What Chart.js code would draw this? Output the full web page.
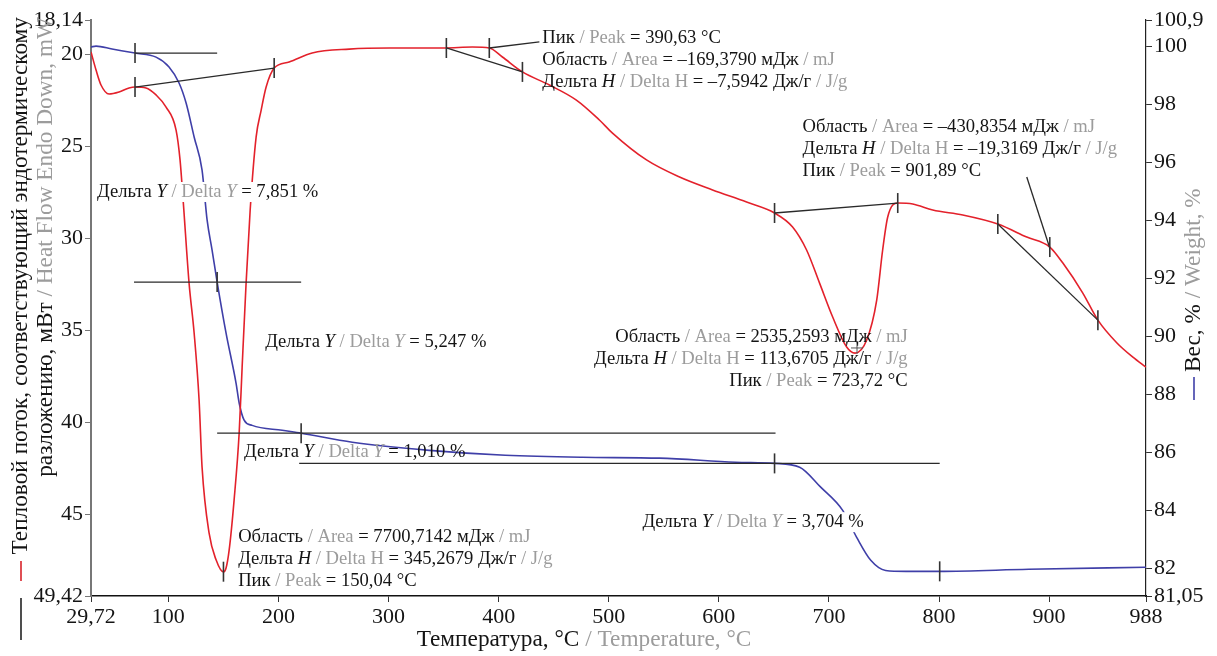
<!DOCTYPE html>
<html>
<head>
<meta charset="utf-8">
<script src="https://cdn.jsdelivr.net/npm/chart.js@4.4.0/dist/chart.umd.min.js"></script>
<style>
  html, body { margin: 0; padding: 0; background: #fff; }
</style>
</head>
<body>
<canvas id="myChart" width="1217" height="656"></canvas>
<script>
// heat flow (red), mW, left axis, endo down
const hfTemp = [29.72, 34.3, 38.8, 46.1, 55.2, 64.3, 69.7, 79.7, 88.8, 97.9, 107.0, 110.6, 113.4, 118.8, 123.4, 127.9, 130.6, 137.0, 143.4, 150.04,
    152.4, 155.2, 159.7, 164.3, 167.0, 170.6, 174.3, 179.7, 184.3, 188.8, 196.1, 209.7, 230.6, 264.3, 300.6, 350.6, 376.1, 391.5, 403.4, 421.6,
    446.1, 470.6, 491.5, 503.4, 534.3, 564.3, 594.3, 625.2, 650.6, 667.0, 679.7, 691.5, 703.4, 716.1, 723.7, 734.3, 743.4, 748.8, 753.4, 762.5,
    776.1, 794.3, 821.6, 853.4, 879.7, 900.6, 912.5, 930.6, 944.3, 961.6, 976.1, 988];
const hfVals = [19.88, 20.86, 21.67, 22.16, 22.05, 21.83, 21.78, 21.83, 22.21, 22.87, 24.12, 25.74, 27.92, 32.43, 35.14, 38.78, 42.42, 46.01, 47.47, 48.12,
    47.9, 46.93, 44.21, 40.57, 36.99, 32.43, 28.46, 24.5, 23.03, 21.78, 20.75, 20.42, 19.93, 19.72, 19.66, 19.66, 19.61, 19.66, 20.15, 20.96,
    21.67, 22.49, 23.57, 24.28, 25.74, 26.67, 27.37, 28.03, 28.62, 29.38, 30.63, 32.43, 34.27, 35.9, 36.23, 35.52, 33.35, 30.63, 28.84, 28.08,
    28.13, 28.46, 28.73, 29.22, 29.93, 30.47, 31.34, 32.97, 34.44, 35.68, 36.45, 36.99];

// weight (blue), %, right axis
const wTemp = [29.72, 34.3, 48.8, 69.7, 88.8, 100.6, 109.7, 116.1, 123.4, 130.6, 135.2, 139.7, 144.3, 152.4, 161.5, 164.3, 168.8, 176.1, 203.4, 220.6,
    267, 337, 406.1, 476.1, 546.1, 615.2, 650.6, 673.4, 692.5, 712.5, 725.2, 738, 751.5, 770, 800.6, 881.5, 988];
const wVals = [99.97, 100.0, 99.9, 99.76, 99.62, 99.28, 98.73, 98.04, 96.87, 95.73, 94.0, 92.97, 91.87, 90.11, 88.38, 87.7, 87.11, 86.93, 86.76, 86.66,
    86.35, 86.07, 85.9, 85.83, 85.8, 85.66, 85.62, 85.49, 84.8, 84.0, 83.07, 82.28, 81.93, 81.9, 81.9, 81.97, 82.04];

const xTicks = [29.72, 100, 200, 300, 400, 500, 600, 700, 800, 900, 988];
const hfTicks = [18.14, 20, 25, 30, 35, 40, 45, 49.42];
const wTicks = [81.05, 82, 84, 86, 88, 90, 92, 94, 96, 98, 100, 100.9];

// analysis marks: [t1, v1, t2, v2]
const hfSegments = [[69.7, 21.78, 196.1, 20.75], [352.5, 19.66, 421.6, 20.96], [391.5, 19.66, 437, 19.33],
    [650.6, 28.62, 762.5, 28.08], [853.4, 29.22, 944.3, 34.44], [879.7, 26.67, 900.6, 30.52]];
const wSegments = [[69.7, 99.76, 144.3, 99.76], [68.8, 91.87, 220.6, 91.87], [144.3, 86.66, 651.5, 86.66], [218.8, 85.62, 800.6, 85.62]];
const hfMarkT = [69.7, 196.1, 150.04, 352.5, 391.5, 421.6, 650.6, 762.5, 853.4, 900.6, 944.3];
const hfMarkV = [21.78, 20.75, 48.1, 19.66, 19.66, 20.96, 28.62, 28.08, 29.22, 30.47, 34.44];
const wMarkT = [69.7, 144.3, 220.6, 650.6, 800.6];
const wMarkV = [99.76, 91.87, 86.66, 85.62, 81.9];

// text blocks: anchor temp, anchor heat flow, align, white box, lines of [text, style]
function dY(v) { return [['Дельта ', 'k'], ['Y', 'ki'], [' / Delta ', 'g'], ['Y', 'gi'], [' = ' + v + ' %', 'k']]; }
function area(v) { return [['Область', 'k'], [' / Area', 'g'], [' = ' + v + ' мДж', 'k'], [' / mJ', 'g']]; }
function dH(v) { return [['Дельта ', 'k'], ['H', 'ki'], [' / Delta H', 'g'], [' = ' + v + ' Дж/г', 'k'], [' / J/g', 'g']]; }
function peak(v) { return [['Пик', 'k'], [' / Peak', 'g'], [' = ' + v + ' °C', 'k']]; }
const notes = [
    { t: 35.2, v: 27.48, align: 'left', box: true, lines: [dY('7,851')] },
    { t: 187.9, v: 35.63, align: 'left', box: true, lines: [dY('5,247')] },
    { t: 168.8, v: 41.61, align: 'left', box: false, lines: [dY('1,010')] },
    { t: 530.6, v: 45.41, align: 'left', box: true, lines: [dY('3,704')] },
    { t: 163.4, v: 46.22, align: 'left', box: false, lines: [area('7700,7142'), dH('345,2679'), peak('150,04')] },
    { t: 439.7, v: 19.12, align: 'left', box: false, lines: [peak('390,63'), area('–169,3790'), dH('–7,5942')] },
    { t: 676.1, v: 23.95, align: 'left', box: false, lines: [area('–430,8354'), dH('–19,3169'), peak('901,89')] },
    { t: 771.5, v: 35.36, align: 'right', box: false, lines: [area('2535,2593'), dH('113,6705'), peak('723,72')] },
];

const BLACK = '#141414';
const GRAY = '#9c9c9c';
const SERIF = '"Liberation Serif", "Times New Roman", serif';
const noteSize = 18.6;
const titleSize = 23.3;
const lineGap = 22;

function fmt(v) { return String(v).replace('.', ','); }
function fontFor(st, size) { return (st.indexOf('i') >= 0 ? 'italic ' : '') + size + 'px ' + SERIF; }

function runsWidth(ctx, runs, size) {
    let w = 0;
    runs.forEach(r => { ctx.font = fontFor(r[1], size); w += ctx.measureText(r[0]).width; });
    return w;
}
function drawRuns(ctx, runs, x, y, size) {
    let cx = x;
    runs.forEach(r => {
        ctx.font = fontFor(r[1], size);
        ctx.fillStyle = r[1][0] === 'g' ? GRAY : BLACK;
        ctx.fillText(r[0], cx, y);
        cx += ctx.measureText(r[0]).width;
    });
}

const textPlugin = {
    id: 'texts',
    afterDatasetsDraw(chart) {
        const ctx = chart.ctx;
        const xs = chart.scales.x, ys = chart.scales.yL;
        ctx.save();
        ctx.textBaseline = 'middle';
        notes.forEach(n => {
            const px = xs.getPixelForValue(n.t);
            let py = ys.getPixelForValue(n.v);
            n.lines.forEach(line => {
                const w = runsWidth(ctx, line, noteSize);
                const x0 = n.align === 'right' ? px - w : px;
                if (n.box) {
                    ctx.fillStyle = '#fff';
                    ctx.fillRect(x0 - 2, py - 10, w + 4, 20);
                }
                drawRuns(ctx, line, x0, py, noteSize);
                py += lineGap;
            });
        });
        ctx.restore();
    },
    afterDraw(chart) {
        const ctx = chart.ctx;
        ctx.save();
        ctx.textBaseline = 'middle';
        // x title
        const xt = [['Температура, °C', 'k'], [' / Temperature, °C', 'g']];
        const xw = runsWidth(ctx, xt, titleSize);
        drawRuns(ctx, xt, 584 - xw / 2, 640, titleSize);

        // left title, two rotated lines ending at the top
        const l1 = [['Тепловой поток, соответствующий эндотермическому', 'k']];
        const l2 = [['разложению, мВт', 'k'], [' / Heat Flow Endo Down, mW', 'g']];
        [[l1, 21], [l2, 46]].forEach(([runs, x]) => {
            const w = runsWidth(ctx, runs, titleSize);
            ctx.save();
            ctx.translate(x, 17);
            ctx.rotate(-Math.PI / 2);
            drawRuns(ctx, runs, -w, 0, titleSize);
            ctx.restore();
        });
        ctx.lineWidth = 1.6;
        ctx.strokeStyle = '#d8232a';
        ctx.beginPath(); ctx.moveTo(21, 581); ctx.lineTo(21, 561); ctx.stroke();
        ctx.strokeStyle = '#222';
        ctx.beginPath(); ctx.moveTo(21, 598); ctx.lineTo(21, 640); ctx.stroke();

        // right title
        const rt = [['Вес, %', 'k'], [' / Weight, %', 'g']];
        ctx.save();
        ctx.translate(1194, 372);
        ctx.rotate(-Math.PI / 2);
        drawRuns(ctx, rt, 0, 0, titleSize);
        ctx.restore();
        ctx.strokeStyle = '#3f3fa8';
        ctx.beginPath(); ctx.moveTo(1194, 400); ctx.lineTo(1194, 377); ctx.stroke();
        ctx.restore();
    }
};

function pts(ts, vs) { return ts.map((t, i) => ({ x: t, y: vs[i] })); }

const datasets = [
    {
        label: 'Heat Flow', data: pts(hfTemp, hfVals), yAxisID: 'yL',
        borderColor: '#e3212b', borderWidth: 1.6, pointRadius: 0, cubicInterpolationMode: 'monotone', order: 2,
    },
    {
        label: 'Weight', data: pts(wTemp, wVals), yAxisID: 'yR',
        borderColor: '#3f3fa8', borderWidth: 1.6, pointRadius: 0, cubicInterpolationMode: 'monotone', order: 2,
    },
];
hfSegments.forEach(s => datasets.push({
    data: [{ x: s[0], y: s[1] }, { x: s[2], y: s[3] }], yAxisID: 'yL',
    borderColor: '#2a2a2a', borderWidth: 1.3, pointRadius: 0, order: 1,
}));
wSegments.forEach(s => datasets.push({
    data: [{ x: s[0], y: s[1] }, { x: s[2], y: s[3] }], yAxisID: 'yR',
    borderColor: '#2a2a2a', borderWidth: 1.3, pointRadius: 0, order: 1,
}));
datasets.push({
    data: pts(hfMarkT, hfMarkV), yAxisID: 'yL', showLine: false,
    pointStyle: 'line', rotation: 90, pointRadius: 10, pointBorderColor: '#333', pointBorderWidth: 1.6, order: 0,
});
datasets.push({
    data: pts(wMarkT, wMarkV), yAxisID: 'yR', showLine: false,
    pointStyle: 'line', rotation: 90, pointRadius: 10, pointBorderColor: '#333', pointBorderWidth: 1.6, order: 0,
});
datasets.push({
    data: [{ x: 725.5, y: 35.95 }], yAxisID: 'yL', showLine: false,
    pointStyle: 'cross', pointRadius: 6, pointBorderColor: '#555', pointBorderWidth: 1, order: 0,
});

const tickFont = { family: SERIF, size: 22 };

var mychart = new Chart('myChart', {
    type: 'line',
    data: { datasets: datasets },
    plugins: [textPlugin],
    options: {
        responsive: false,
        animation: false,
        devicePixelRatio: 1,
        layout: { padding: { top: 20, left: 0, right: 0, bottom: 0 }, autoPadding: false },
        plugins: { legend: { display: false }, tooltip: { enabled: false } },
        scales: {
            x: {
                type: 'linear', min: 29.72, max: 988,
                afterBuildTicks: s => { s.ticks = xTicks.map(v => ({ value: v })); },
                afterFit: s => { s.height = 60; },
                grid: { drawOnChartArea: false, tickLength: 6, color: '#333' },
                border: { color: '#111', width: 1.5 },
                ticks: { color: BLACK, font: tickFont, padding: 2, maxRotation: 0, autoSkip: false, callback: v => fmt(v) },
            },
            yL: {
                type: 'linear', position: 'left', reverse: true, min: 18.14, max: 49.42,
                afterBuildTicks: s => { s.ticks = hfTicks.map(v => ({ value: v })); },
                afterFit: s => { s.width = 91; },
                grid: { drawOnChartArea: false, tickLength: 6, color: '#777' },
                border: { color: '#777', width: 2 },
                ticks: { color: BLACK, font: tickFont, padding: 2, autoSkip: false, callback: v => fmt(v) },
            },
            yR: {
                type: 'linear', position: 'right', min: 81.05, max: 100.9,
                afterBuildTicks: s => { s.ticks = wTicks.map(v => ({ value: v })); },
                afterFit: s => { s.width = 71; },
                grid: { drawOnChartArea: false, tickLength: 6, color: '#333' },
                border: { color: '#222', width: 1.2 },
                ticks: { color: BLACK, font: tickFont, padding: 2, autoSkip: false, callback: v => fmt(v) },
            },
        },
    },
});
</script>
</body>
</html>
